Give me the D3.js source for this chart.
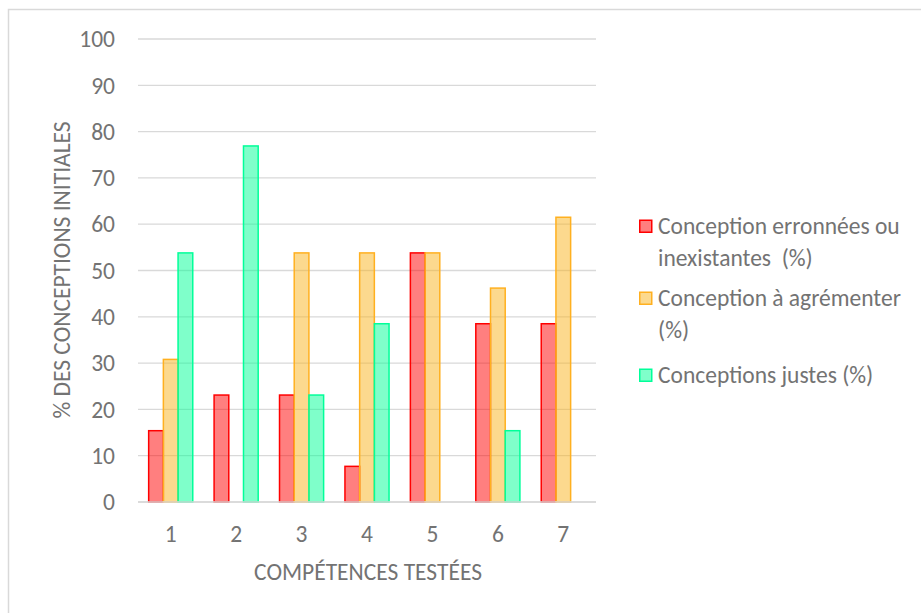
<!DOCTYPE html>
<html>
<head>
<meta charset="utf-8">
<script src="https://cdn.jsdelivr.net/npm/d3@7"></script>
<style>
  body { margin: 0; background: #fff; }
  text { font-family: Carlito, Lato, "Open Sans", sans-serif; fill: #737373; white-space: pre; }
</style>
</head>
<body>
<div id="chart"></div>
<script>
// data
var categories = ["1", "2", "3", "4", "5", "6", "7"];
var seriesNames = ["Conception erronnées ou inexistantes  (%)", "Conception à agrémenter (%)", "Conceptions justes (%)"];
var erronees = [15.4, 23.1, 23.1, 7.7, 53.8, 38.5, 38.5];
var agrementer = [30.8, 0, 53.8, 53.8, 53.8, 46.2, 61.5];
var justes = [53.8, 76.9, 23.1, 38.5, 0, 15.4, 0];
var yTicks = [0, 10, 20, 30, 40, 50, 60, 70, 80, 90, 100];
var legendLines = [["Conception erronnées ou", "inexistantes  (%)"], ["Conception à agrémenter", "(%)"], ["Conceptions justes (%)"]];

// styles
var fills = ["rgba(255,0,0,0.5)", "rgba(250,180,30,0.5)", "rgba(0,255,150,0.5)"];
var strokes = ["#ff0000", "#ffb020", "#00ff99"];

const chartWidth = 921;
const chartHeight = 613;
const plotLeft = 138, plotRight = 596, plotTop = 39, plotBottom = 502;
const fontSize = "23.5px";

var svg = d3.select("#chart").append("svg").attr("width", chartWidth).attr("height", chartHeight);

svg.append("rect")
    .attr("width", "100%").attr("height", "100%")
    .attr("fill", "#fff");

// outer frame (right and bottom edges run past the picture)
svg.append("rect")
    .attr("x", 8.5).attr("y", 9.5)
    .attr("width", chartWidth).attr("height", chartHeight)
    .attr("fill", "none").attr("stroke", "#d9d9d9").attr("stroke-width", 1.5);

var xScale = d3.scaleBand().domain(categories).range([plotLeft, plotRight]);
var yScale = d3.scaleLinear().domain([0, 100]).range([plotBottom, plotTop]);

// gridlines
svg.append("g").selectAll("line")
    .data(yTicks)
    .join("line")
    .attr("x1", plotLeft).attr("x2", plotRight)
    .attr("y1", d => yScale(d)).attr("y2", d => yScale(d))
    .attr("stroke", "#d9d9d9").attr("stroke-width", 1.3);

// y tick labels
svg.append("g").selectAll("text")
    .data(yTicks)
    .join("text")
    .attr("x", 115).attr("y", d => yScale(d))
    .attr("dy", "0.35em")
    .attr("text-anchor", "end")
    .style("font-size", fontSize)
    .text(d => d);

// bars
var barWidth = 14.7;
var rows = [];
categories.forEach(function(c, i) {
    [erronees, agrementer, justes].forEach(function(s, k) {
        rows.push({cat: c, k: k, v: s[i]});
    });
});

svg.append("g").selectAll("rect")
    .data(rows.filter(d => d.v > 0))
    .join("rect")
    .attr("x", d => xScale(d.cat) + xScale.bandwidth() / 2 + (d.k - 1.5) * barWidth)
    .attr("y", d => yScale(d.v))
    .attr("width", barWidth)
    .attr("height", d => yScale(0) - yScale(d.v))
    .attr("fill", d => fills[d.k])
    .attr("stroke", d => strokes[d.k])
    .attr("stroke-width", 1.5);

// x axis line
svg.append("line")
    .attr("x1", plotLeft).attr("x2", plotRight)
    .attr("y1", yScale(0)).attr("y2", yScale(0))
    .attr("stroke", "#d9d9d9").attr("stroke-width", 1.5);

// x tick labels
svg.append("g").selectAll("text")
    .data(categories)
    .join("text")
    .attr("x", d => xScale(d) + xScale.bandwidth() / 2)
    .attr("y", 534).attr("dy", "0.35em")
    .attr("text-anchor", "middle")
    .style("font-size", fontSize)
    .text(d => d);

// axis titles
svg.append("text")
    .attr("x", 368).attr("y", 572).attr("dy", "0.35em")
    .attr("text-anchor", "middle")
    .style("font-size", fontSize)
    .text("COMPÉTENCES TESTÉES");

svg.append("text")
    .attr("transform", "translate(62,270) rotate(-90)")
    .attr("dy", "0.35em")
    .attr("text-anchor", "middle")
    .style("font-size", fontSize)
    .text("% DES CONCEPTIONS INITIALES");

// legend
var legendY = [226, 298, 375];
var legend = svg.append("g").selectAll("g")
    .data(seriesNames)
    .join("g")
    .attr("transform", (d, i) => "translate(639," + legendY[i] + ")");

legend.append("rect")
    .attr("x", 0.75).attr("y", -5.75)
    .attr("width", 12).attr("height", 12)
    .attr("fill", (d, i) => fills[i])
    .attr("stroke", (d, i) => strokes[i])
    .attr("stroke-width", 1.5);

legend.each(function(d, i) {
    d3.select(this).selectAll("text")
        .data(legendLines[i])
        .join("text")
        .attr("x", 19)
        .attr("y", (t, j) => j * 31.5)
        .attr("dy", "0.35em")
        .style("font-size", fontSize)
        .text(t => t);
});
</script>
</body>
</html>
